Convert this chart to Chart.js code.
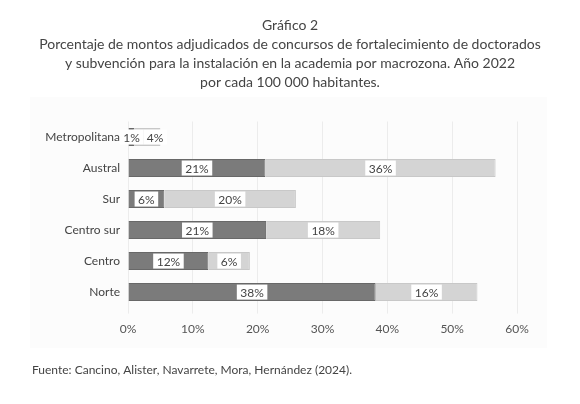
<!DOCTYPE html>
<html>
<head>
<meta charset="utf-8">
<script src="https://cdn.jsdelivr.net/npm/chart.js@4"></script>
<style>
  html, body { margin: 0; padding: 0; background: #fff; }
  #wrap { width: 580px; height: 404px; }
</style>
</head>
<body>
<div id="wrap"><canvas id="myChart" width="580" height="404"></canvas></div>
<script>
// values (% per 100 000 inhabitants)
var zonas = ['Metropolitana', 'Austral', 'Sur', 'Centro sur', 'Centro', 'Norte'];
var doctorados = [1.0, 21.2, 5.6, 21.3, 12.4, 38.2];
var instalacion = [4.0, 35.5, 20.3, 17.6, 6.4, 15.7];
var xTicks = [0, 10, 20, 30, 40, 50, 60];
var titulo = [
  'Gráfico 2',
  'Porcentaje de montos adjudicados de concursos de fortalecimiento de doctorados',
  'y subvención para la instalación en la academia por macrozona. Año 2022',
  'por cada 100 000 habitantes.'
];
var fuente = 'Fuente: Cancino, Alister, Navarrete, Mora, Hernández (2024).';

var FONT = 'Lato, "Noto Sans", sans-serif';
Chart.defaults.font.family = FONT;
Chart.defaults.color = '#555';

// faint panel behind the plot + title centred on the whole canvas
var panel = {
  id: 'panel',
  beforeDraw: function(chart) {
    var c = chart.ctx;
    c.save();
    c.fillStyle = '#fcfcfc';
    c.fillRect(30, 97, 517, 251);
    c.font = '14px ' + FONT;
    c.fillStyle = '#444';
    c.textAlign = 'center';
    c.textBaseline = 'middle';
    titulo.forEach(function(line, i) {
      c.fillText(line, chart.width / 2, 25 + i * 19);
    });
    c.restore();
  }
};

// white boxes with the rounded value over each segment
var boxLabels = {
  id: 'boxLabels',
  afterDatasetsDraw: function(chart) {
    var c = chart.ctx;
    c.save();
    c.font = '12px ' + FONT;
    c.textAlign = 'center';
    c.textBaseline = 'middle';
    var lastRight = {};
    chart.data.datasets.forEach(function(ds, di) {
      var meta = chart.getDatasetMeta(di);
      meta.data.forEach(function(bar, i) {
        var p = bar.getProps(['x', 'y', 'base', 'height'], true);
        var txt = Math.round(ds.data[i]) + '%';
        var w = c.measureText(txt).width + 7;
        var h = p.height - 3;
        var cx = (p.x + p.base) / 2;
        var left = cx - w / 2;
        if (lastRight[i] !== undefined && left < lastRight[i]) left = lastRight[i];
        lastRight[i] = left + w;
        c.fillStyle = '#fff';
        c.fillRect(left, p.y - h / 2, w, h);
        c.fillStyle = '#444';
        c.fillText(txt, left + w / 2, p.y + 1);
      });
    });
    c.restore();
  }
};

var ctx = document.getElementById('myChart');
var myChart = new Chart(ctx, {
  type: 'bar',
  data: {
    labels: zonas,
    datasets: [
      {
        label: 'Fortalecimiento de doctorados',
        data: doctorados,
        backgroundColor: '#7b7b7b',
        borderColor: '#686868',
        borderWidth: 1,
        barPercentage: 0.58,
        categoryPercentage: 1
      },
      {
        label: 'Instalación en la academia',
        data: instalacion,
        backgroundColor: '#d4d4d4',
        borderColor: '#c8c8c8',
        borderWidth: 1,
        barPercentage: 0.58,
        categoryPercentage: 1
      }
    ]
  },
  options: {
    indexAxis: 'y',
    responsive: false,
    animation: false,
    layout: { padding: { left: 32, right: 63, top: 121.5, bottom: 0 } },
    plugins: {
      legend: { display: false },
      tooltip: { enabled: false },
      title: { display: false },
      subtitle: {
        display: true,
        position: 'bottom',
        align: 'start',
        text: fuente,
        color: '#444',
        font: { size: 12, weight: 'normal' },
        padding: { top: 18.8, bottom: 26.8 }
      }
    },
    scales: {
      x: {
        stacked: true,
        min: xTicks[0],
        max: xTicks[xTicks.length - 1],
        afterBuildTicks: function(axis) {
          axis.ticks = xTicks.map(function(v) { return { value: v }; });
        },
        grid: { color: '#ececec', drawTicks: true, tickLength: 6 },
        border: { display: false },
        ticks: {
          padding: 8,
          color: '#555',
          font: { size: 12 },
          callback: function(v) { return v + '%'; }
        }
      },
      y: {
        stacked: true,
        afterFit: function(axis) { axis.width = 96; },
        grid: { display: false, drawTicks: false },
        border: { display: false },
        ticks: { padding: 8, color: '#444', font: { size: 12 } }
      }
    }
  },
  plugins: [panel, boxLabels]
});
</script>
</body>
</html>
